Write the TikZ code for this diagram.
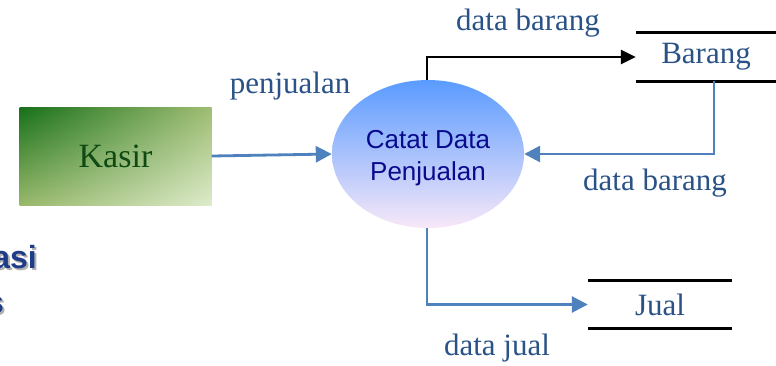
\documentclass[tikz,border=0pt]{standalone}
\usepackage{fontspec}
\setmainfont{Liberation Serif}
\setsansfont{Liberation Sans}
\usetikzlibrary{arrows.meta,shapes.geometric,shadings}
\definecolor{lblue}{HTML}{2A5286}
\definecolor{flowblue}{HTML}{4F81BD}
\definecolor{kgreen}{HTML}{0E4A12}
\definecolor{navytext}{HTML}{0A0A8C}
\definecolor{titleblue}{HTML}{1F3C88}
\definecolor{gUL}{HTML}{17701A}
\definecolor{gUR}{HTML}{9FBD72}
\definecolor{gLL}{HTML}{98B86A}
\definecolor{gLR}{HTML}{DDEBCB}
\definecolor{eTop}{HTML}{5A9BFF}
\definecolor{eMid}{HTML}{80BEFF}
\definecolor{eBot}{HTML}{F8E8F8}
\begin{document}
\begin{tikzpicture}[x=1pt,y=-1pt,
  lbl/.style={anchor=base,text=lblue,font=\fontsize{31}{34}\selectfont,inner sep=0pt},
  flow/.style={draw=flowblue,line width=2.8pt,-{Triangle[length=16pt,width=16pt]}},
  blkflow/.style={draw=black,line width=2.8pt,-{Triangle[length=15pt,width=14pt]}},
  storeline/.style={draw=black,line width=2.8pt},
  store/.style={minimum height=48pt,inner sep=0pt,text=lblue,font=\fontsize{31}{34}\selectfont},
  titlefrag/.style={anchor=base east,inner sep=0pt,font=\sffamily\bfseries\fontsize{32}{36}\selectfont}]
\useasboundingbox (0,0) rectangle (776,365);
% cut-off title fragments at the left edge
\node[titlefrag,text=gray!60] (tsh) at (39,270) {asi};
\node[titlefrag,text=titleblue] (t1) at (37,268) {asi};
\node[titlefrag,text=gray!60] (tsh2) at (6,315) {s};
\node[titlefrag,text=titleblue] (t2) at (4,313) {s};
% external entity
\node[minimum width=192pt,minimum height=98pt,inner sep=0pt,
  shade,upper left=gUL,upper right=gUR,lower left=gLL,lower right=gLR,
  text=kgreen,font=\fontsize{34}{36}\selectfont] (kasir) at (115.5,156) {Kasir};
% process
\node[ellipse,minimum width=192pt,minimum height=148pt,inner sep=0pt,
  top color=eTop,middle color=eMid,bottom color=eBot,
  text=navytext,align=center,font=\sffamily\fontsize{26}{33}\selectfont] (proc) at (428,154) {\rule{0pt}{25.5pt}Catat Data\\[-1pt]Penjualan};
% data stores
\node[store,minimum width=140pt] (barang) at (706,57) {Barang};
\draw[storeline] (barang.north west) -- (barang.north east);
\draw[storeline] (barang.south west) -- (barang.south east);
\node[store,minimum width=144pt] (jual) at (660,304.5) {Jual};
\draw[storeline] (jual.north west) -- (jual.north east);
\draw[storeline] (jual.south west) -- (jual.south east);
% flows
\draw[flow] (kasir.east) -- (proc.west);
\draw[blkflow] ([xshift=-1pt]proc.north) |- (barang.west);
\draw[flow] ([xshift=8pt]barang.south) |- (proc.east);
\draw[flow] ([xshift=-1pt]proc.south) |- (jual.west);
% labels
\node[lbl] (l1) at (290,93) {penjualan};
\node[lbl] (l2) at (528,30) {data barang};
\node[lbl] (l3) at (655,190) {data barang};
\node[lbl] (l4) at (497,355) {data jual};
\end{tikzpicture}
\end{document}
